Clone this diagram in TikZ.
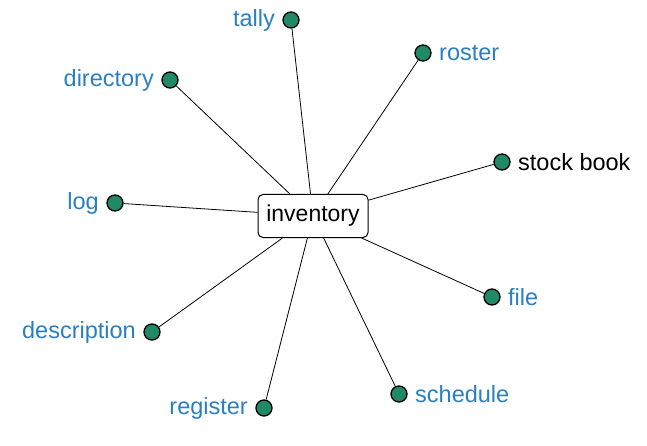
\documentclass[tikz,border=0pt]{standalone}
\usepackage{fontspec}
\setmainfont{Liberation Sans}
\tikzset{every picture/.style = {x=1pt, y=-1pt}}
\definecolor{leafgreen}{HTML}{1F8A65}
\definecolor{leafblue}{HTML}{2A7FC0}
\tikzset{leaf/.style = {circle, draw, line width=1.3pt, fill=leafgreen, minimum size=16pt, inner sep=0}}
\tikzset{tag/.style = {text=leafblue, font=\fontsize{23.5}{26}\selectfont, label distance=4pt}}
\tikzset{hub/.style = {draw, rounded corners=5pt, line width=1pt, fill=white,
  minimum width=110pt, minimum height=43pt, font=\fontsize{23}{26}\selectfont}}

\begin{document}
\begin{tikzpicture}
  \useasboundingbox (0, 0) rectangle (647, 446);
  \node(inv)[hub] at (313, 216) {inventory};
  \node(tally)[leaf, label={[tag]left:tally}] at (291, 20) {};
  \node(roster)[leaf, label={[tag]right:roster}] at (423, 53) {};
  \node(dir)[leaf, label={[tag]left:directory}] at (170, 80) {};
  \node(stock)[leaf, label={[tag, text=black]right:stock book}] at (502, 162) {};
  \node(log)[leaf, label={[tag]left:log}] at (115, 203) {};
  \node(file)[leaf, label={[tag]right:file}] at (492, 297) {};
  \node(desc)[leaf, label={[tag]left:description}] at (152, 332) {};
  \node(reg)[leaf, label={[tag]left:register}] at (264, 408) {};
  \node(sched)[leaf, label={[tag]right:schedule}] at (399, 394) {};
  \begin{scope}[thick]
    \draw (inv) -- (tally);
    \draw (inv) -- (roster);
    \draw (inv) -- (dir);
    \draw (inv) -- (stock);
    \draw (inv) -- (log);
    \draw (inv) -- (file);
    \draw (inv) -- (desc);
    \draw (inv) -- (reg);
    \draw (inv) -- (sched);
  \end{scope}
\end{tikzpicture}
\end{document}
